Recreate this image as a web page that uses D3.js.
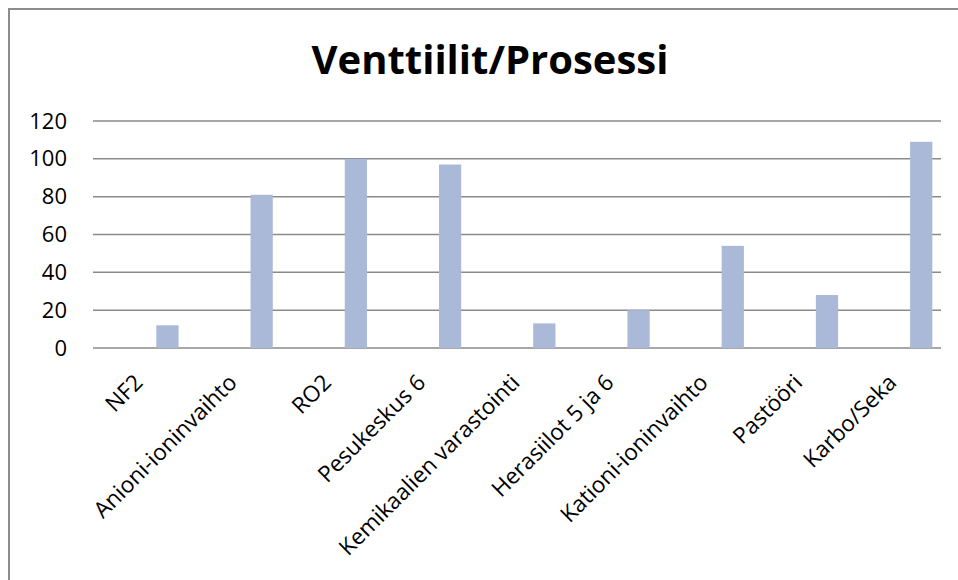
<!DOCTYPE html>
<html>
<head>
<meta charset="utf-8">
<script src="https://cdn.jsdelivr.net/npm/d3@7"></script>
<style>
  body { margin: 0; background: #fff; }
  svg { display: block; font-family: "Open Sans", sans-serif; }
</style>
</head>
<body>
<div id="chart"></div>
<script>
// Chart data
const categories = ["NF2", "Anioni-ioninvaihto", "RO2", "Pesukeskus 6", "Kemikaalien varastointi",
                    "Herasiilot 5 ja 6", "Kationi-ioninvaihto", "Pastööri", "Karbo/Seka"];
const values = [12, 81, 100, 97, 13, 20, 54, 28, 109];
const yTicks = [0, 20, 40, 60, 80, 100, 120];

const W = 958, H = 580;
const margin = { top: 121, right: 17, bottom: 232, left: 93 };
const width = W - margin.left - margin.right;
const height = H - margin.top - margin.bottom;

const svg = d3.select("#chart").append("svg")
  .attr("width", W)
  .attr("height", H);

// outer frame (only top and left edges visible)
svg.append("path")
  .attr("d", "M9,580 V9 H958")
  .attr("fill", "none")
  .attr("stroke", "#8c8c8c")
  .attr("stroke-width", 2);

// title
svg.append("text")
  .attr("x", 490)
  .attr("y", 74)
  .attr("text-anchor", "middle")
  .style("font-size", "40px")
  .style("font-weight", "bold")
  .text("Venttiilit/Prosessi");

const g = svg.append("g")
  .attr("transform", "translate(" + margin.left + "," + margin.top + ")");

const x = d3.scaleBand()
  .domain(categories)
  .range([0, width]);

const y = d3.scaleLinear()
  .domain([0, 120])
  .range([height, 0]);

// horizontal gridlines
g.selectAll("line.grid")
  .data(yTicks)
  .enter().append("line")
  .attr("class", "grid")
  .attr("x1", 0)
  .attr("x2", width)
  .attr("y1", d => y(d))
  .attr("y2", d => y(d))
  .style("stroke", "#8a8a8a")
  .style("stroke-width", 1.5);

// bars sit in the right part of each band (second series slot)
g.selectAll(".bar")
  .data(values)
  .enter().append("rect")
  .attr("class", "bar")
  .attr("x", (d, i) => x(categories[i]) + x.bandwidth() * 0.672)
  .attr("width", x.bandwidth() * 0.236)
  .attr("y", d => y(d))
  .attr("height", d => y(0) - y(d))
  .attr("fill", "#aab9d7");

// y axis labels
const yAxis = d3.axisLeft(y)
  .tickValues(yTicks)
  .tickSize(0)
  .tickPadding(26);

g.append("g")
  .attr("class", "y axis")
  .call(yAxis)
  .call(a => a.select(".domain").remove())
  .selectAll("text")
  .attr("fill", "#000")
  .style("font-size", "22px")
  .style("font-family", "'Open Sans', sans-serif");

// x axis labels, rotated
const xAxis = d3.axisBottom(x).tickSize(0).tickPadding(0);

g.append("g")
  .attr("class", "x axis")
  .attr("transform", "translate(0," + height + ")")
  .call(xAxis)
  .call(a => a.select(".domain").remove())
  .selectAll("text")
  .attr("fill", "#000")
  .style("font-size", "22.5px")
  .style("font-family", "'Open Sans', sans-serif")
  .attr("text-anchor", "end")
  .attr("dy", "0")
  .attr("transform", "translate(4,36) rotate(-45)");
</script>
</body>
</html>
